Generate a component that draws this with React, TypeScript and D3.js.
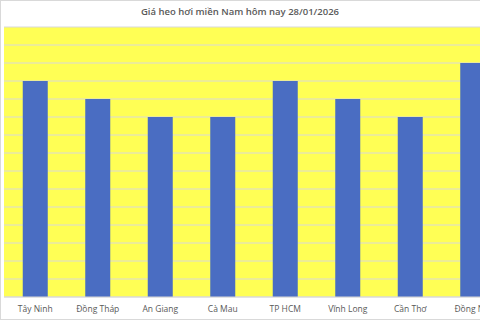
import React from "react";
import * as d3 from "d3";

const title = "Giá heo hơi miền Nam hôm nay 28/01/2026";
const categories = ["Tây Ninh", "Đồng Tháp", "An Giang", "Cà Mau", "TP HCM", "Vĩnh Long", "Cần Thơ", "Đồng Nai"];
const prices = [59000, 58000, 57000, 57000, 59000, 58000, 57000, 60000];
const yDomain = [47000, 62000];
const yTickStep = 1000;

export default function App() {
  const W = 480, H = 320;
  const left = 4, top = 27, bottom = 297;
  const plotRight = 504;
  const x = d3.scaleBand<string>().domain(categories).range([left, plotRight]).paddingInner(0.6).paddingOuter(0.3);
  const y = d3.scaleLinear().domain(yDomain).range([bottom, top]);
  const ticks = d3.range(yDomain[0], yDomain[1] + 1, yTickStep);
  const font = "'Open Sans', 'Noto Sans', sans-serif";
  return (
    <svg width={W} height={H} style={{ position: "absolute", left: 0, top: 0, background: "#fff" }}>
      <rect x={0.5} y={0.5} width={W + 10} height={H - 1} fill="#fff" stroke="#d9d9d9" />
      <text x={240} y={15} textAnchor="middle" fontFamily={font} fontSize={9.5} fontWeight={600} fill="#595959">
        {title}
      </text>
      <rect x={left} y={top} width={W - left} height={bottom - top} fill="#FFFF55" />
      {ticks.map((t) => (
        <line key={t} x1={left} x2={W} y1={y(t)} y2={y(t)} stroke="#d9d9d9" strokeWidth={1} />
      ))}
      {categories.map((c, i) => (
        <rect key={c} x={x(c)!} y={y(prices[i])} width={x.bandwidth()} height={bottom - y(prices[i])} fill="#4A6DC2" />
      ))}
      <line x1={left} x2={W} y1={bottom} y2={bottom} stroke="#d9d9d9" />
      {categories.map((c) => (
        <text key={c} x={x(c)! + x.bandwidth() / 2} y={312} textAnchor="middle" fontFamily={font} fontSize={8.5} fill="#595959">
          {c}
        </text>
      ))}
    </svg>
  );
}
